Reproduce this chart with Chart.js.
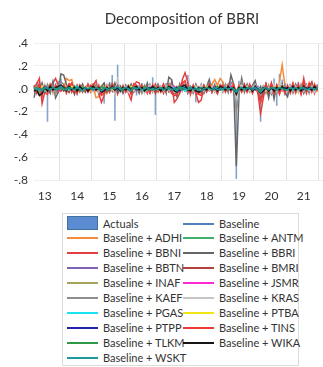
<!DOCTYPE html>
<html>
<head>
<meta charset="utf-8">
<script src="https://cdn.jsdelivr.net/npm/chart.js@4.4.1/dist/chart.umd.min.js"></script>
<style>
  html, body { margin: 0; padding: 0; background: #ffffff; overflow: hidden; }
  #wrap { position: relative; width: 323px; height: 367px; overflow: hidden; }
  #c { position: absolute; left: 0; top: 0; }
  #legendBox { position: absolute; left: 62px; top: 213px; width: 237px; height: 153px; border: 1px solid #dcdcdc; box-sizing: border-box; }
  .item { position: absolute; height: 14px; font-family: Lato, "Open Sans", sans-serif; font-size: 11px; color: #333333; white-space: nowrap; line-height: 14px; }
  .sample { position: absolute; left: 0; width: 31px; }
  .txt { position: absolute; left: 36px; top: 0; }
</style>
</head>
<body>
<div id="wrap">
  <canvas id="c" width="364" height="210"></canvas>
  <div id="legendBox"></div>
  <div id="legend"></div>
</div>
<script>
// Values are typed in hundredths (0.01 units), one line per calendar year (2013 from March).
const yearLabels = ['13','14','15','16','17','18','19','20','21'];
const yTickLabels = ['-.8','-.6','-.4','-.2','.0','.2','.4'];

const actuals = [
  -4,6,-5,-8,3,-29,4,-3,5,7,
  9,4,-3,5,-2,3,-6,2,4,-3,2,-4,
  5,3,-5,-3,-13,4,6,12,-28,21,-4,2,
  -3,4,-5,2,-6,3,5,-2,3,-4,10,-23,
  4,-3,2,5,-4,8,-2,-6,3,6,-3,12,
  -4,3,-12,2,-5,4,-3,6,5,-4,3,-2,
  6,-3,4,5,-6,-79,7,5,-3,4,-2,3,
  5,-4,-29,3,6,-5,4,9,-15,13,8,-6,
  -5,4,3,-4,6,-3,2,5,-4,6,-3,4];
const baseline = [
  1,-1,0,-2,1,-1,0,1,-1,0,
  1,0,-1,1,0,-1,1,0,-1,1,0,-1,
  0,1,-1,0,-2,1,0,1,-1,2,-1,0,
  1,-1,0,1,-1,0,1,0,-1,0,1,-2,
  0,1,-1,0,1,0,-1,1,0,-1,1,0,
  -1,0,1,-1,0,1,0,-1,1,0,-1,0,
  1,0,-1,1,0,-3,1,0,-1,0,1,0,
  0,-1,-2,1,0,-1,1,0,-1,1,0,-1,
  1,0,-1,0,1,-1,0,1,0,-1,0,1];
const adhi = [
  2,-3,4,-2,3,-1,2,-4,3,1,
  2,-1,9,7,8,-2,3,-3,2,-2,4,-3,
  1,-8,-7,-2,3,-4,2,4,-3,3,-2,1,
  -2,3,-1,4,2,-3,2,-2,3,-1,2,-3,
  1,-2,3,-1,2,-3,2,-1,-4,2,3,-2,
  2,-1,3,-2,1,-3,2,-1,4,8,3,9,
  6,-2,3,-1,2,-4,3,-2,1,-3,2,-1,
  2,-3,-5,2,3,-1,4,2,-3,6,21,3,
  -2,1,3,-4,2,-1,3,-2,4,-1,2,-3];
const antm = [
  1,0,-2,1,2,-1,0,1,-1,2,
  0,-1,1,2,-1,0,1,-2,1,0,-1,1,
  2,-1,0,1,-2,1,0,-1,2,0,-1,1,
  0,1,-1,0,2,-1,1,0,-2,1,0,-1,
  1,0,-1,2,0,-1,1,-2,0,1,-1,0,
  2,-1,0,1,-1,0,2,-1,0,1,-2,1,
  0,1,-1,0,1,-2,0,1,-1,2,0,-1,
  1,-1,-3,2,0,1,-1,0,2,-1,1,0,
  -1,1,0,-2,1,0,2,-1,0,1,-1,0];
const bbni = [
  2,4,9,-13,-3,-5,2,5,9,3,
  -2,3,-4,2,5,-3,2,-1,3,-2,4,-1,
  3,7,-4,-12,-6,2,-3,4,3,-5,2,-3,
  2,-4,-10,3,6,5,-3,2,-4,3,-2,4,
  -3,2,-4,3,-2,5,-12,-9,-4,8,14,6,
  -5,3,-4,-12,-10,2,-3,4,-2,3,-4,2,
  3,-2,4,-3,2,-5,3,-2,4,-3,2,-4,
  3,-4,-22,-8,3,-4,2,-5,3,-2,4,-3,
  2,-3,4,-2,3,-4,9,-3,2,6,-4,3];
const bbri = [
  -8,3,-2,5,-3,2,-4,6,-8,-3,
  13,12,4,-3,2,-5,3,-2,4,-3,1,2,
  -2,3,-4,2,5,-3,4,-2,5,-3,2,-4,
  3,-2,4,-3,2,-4,3,-2,5,-3,2,-3,
  4,-2,3,-4,10,8,-3,-7,4,-2,3,-4,
  2,-3,4,-2,3,-4,2,8,-3,2,-4,3,
  -2,3,-3,12,4,-68,-5,9,-3,4,-2,3,
  7,-3,2,-4,3,-8,4,-9,3,-2,4,-3,
  -7,3,-2,4,-3,2,-4,3,-2,4,-3,2];
const bbtn = [
  -1,2,0,-2,1,0,-1,2,-1,0,
  1,-2,0,1,-1,2,0,-1,1,0,-2,1,
  0,1,-2,1,0,-1,2,0,-1,1,0,-1,
  2,-1,0,1,-2,0,1,-1,0,2,-1,0,
  -1,1,0,-2,1,2,-1,0,1,-1,0,2,
  0,-1,2,0,-1,1,0,-2,1,0,1,-1,
  1,0,-1,2,0,-3,1,-1,0,1,-2,0,
  -1,2,-3,0,1,-1,0,2,-1,0,1,-2,
  0,1,-1,2,0,-1,1,0,-2,1,0,-1];
const bmri = [
  2,-3,4,-5,2,-1,3,-2,1,-3,
  3,-2,1,-3,2,-4,1,2,-3,1,-2,3,
  -1,2,-3,-5,1,3,-2,2,-4,3,-1,2,
  -2,1,-4,2,3,-1,2,-3,1,-2,3,-4,
  2,-1,3,-2,1,-3,-4,2,1,3,5,-2,
  1,-3,2,-4,-3,1,-2,3,-1,2,-3,1,
  2,-1,3,-2,1,-6,2,-1,3,-2,1,-3,
  2,-2,-8,-3,2,-1,3,-2,1,-3,2,-1,
  1,-2,3,-1,2,-3,4,-1,2,3,-2,1];
const inaf = [
  0,1,-1,2,-1,0,1,-2,1,0,
  -1,1,2,-1,0,1,-1,0,2,-1,0,1,
  1,-1,0,2,-1,1,0,-1,1,0,-2,1,
  0,1,-1,0,1,-2,1,0,-1,1,0,-1,
  1,-1,2,0,-1,1,0,-2,1,0,1,-1,
  0,1,-1,2,-1,0,1,-1,0,2,-1,0,
  1,-1,0,1,-1,-2,1,0,-1,1,0,1,
  -1,0,-2,1,0,-1,2,0,-1,1,0,-1,
  1,0,-1,1,0,-2,1,0,1,-1,0,1];
const jsmr = [
  1,-1,2,0,-1,1,0,-1,1,-2,
  0,1,-1,0,2,-1,0,1,-1,0,1,-1,
  2,0,-1,1,-2,0,1,-1,0,1,-1,2,
  -1,0,1,-2,0,1,-1,2,0,-1,1,0,
  1,-2,0,1,-1,0,2,-1,0,1,-1,1,
  -1,0,1,-1,2,0,-1,1,-2,0,1,0,
  1,-1,0,2,-1,-2,0,1,-1,0,1,-1,
  0,1,-2,0,1,-1,0,2,-1,1,0,-1,
  1,-1,0,1,-2,0,1,-1,0,2,-1,0];
const kaef = [
  -3,2,-4,3,-2,4,-1,3,-5,2,
  6,4,-2,3,-3,2,-4,3,-2,1,-3,2,
  -2,4,-3,2,-4,3,-2,5,-3,6,-2,3,
  -3,2,-2,4,-3,2,-4,3,-2,4,-3,2,
  3,-2,4,-3,5,3,-2,-4,3,-2,5,-3,
  2,-4,3,-2,4,-3,2,5,-3,4,-2,3,
  -3,4,-2,6,3,-20,-4,6,-2,3,-3,2,
  4,-3,-6,2,-4,3,-5,2,-4,3,-2,4,
  -3,2,-4,3,-2,4,-3,2,-4,3,-2,3];
const kras = [
  2,-3,3,-2,4,-2,1,-3,2,-1,
  3,2,-2,1,-3,2,-1,3,-2,2,-1,1,
  -2,1,-3,2,-1,4,-2,3,-5,8,-2,1,
  2,-3,1,-2,3,-1,2,-4,1,3,-2,1,
  -1,2,-2,3,-1,2,-3,1,2,-2,4,-1,
  1,-2,2,-1,3,-2,1,-1,2,-3,1,2,
  -2,1,3,-2,2,-8,2,3,-1,2,-2,1,
  3,-1,-4,2,-2,1,-3,4,-2,5,3,-1,
  -2,3,-1,2,-3,1,-2,3,-1,2,-3,1];
const pgas = [
  1,0,-1,1,-2,1,0,-1,2,0,
  -1,1,0,-1,1,0,2,-1,0,1,-1,0,
  1,-1,2,0,-1,1,-2,0,1,-1,0,1,
  0,1,-1,1,0,-2,1,0,-1,1,0,-1,
  1,0,-1,2,-1,0,1,-1,0,1,-2,0,
  0,1,-1,0,1,-1,2,0,-1,1,0,-1,
  1,-1,0,1,-1,-2,1,0,-1,1,0,1,
  -1,1,-2,0,1,-1,0,1,-1,0,2,-1,
  0,1,-1,0,1,-1,2,0,-1,1,0,-1];
const ptba = [
  -1,1,0,2,-1,0,1,-1,0,1,
  1,0,-1,1,2,-1,0,1,-1,0,1,-1,
  0,-1,1,0,-1,2,0,-1,1,0,-1,1,
  -1,0,2,-1,0,1,-1,0,1,-2,0,1,
  0,1,-1,0,2,-1,0,1,-1,0,1,-1,
  1,-1,0,1,-1,0,2,-1,0,1,-1,0,
  0,1,-1,0,1,-2,0,1,-1,0,1,-1,
  1,0,-2,1,-1,0,1,-1,0,2,-1,0,
  0,-1,1,0,-1,1,0,-1,2,0,1,-1];
const ptpp = [
  0,-1,1,-1,2,0,-1,1,0,-1,
  1,-1,0,2,-1,0,1,-1,0,1,-1,0,
  -1,1,0,-1,0,1,-1,2,0,-1,1,0,
  1,-1,0,1,-1,0,2,-1,0,1,-1,1,
  0,1,-1,0,1,-1,0,1,-2,0,1,-1,
  1,0,-1,1,0,-1,1,0,-1,2,0,-1,
  0,1,-1,0,1,-3,0,1,-1,0,1,0,
  -1,0,-2,1,0,-1,1,0,-1,1,0,1,
  -1,1,0,-1,1,0,-1,1,0,-1,1,0];
const tins = [
  3,-4,5,-6,2,-3,4,-2,3,-1,
  -2,3,-1,4,-3,2,-4,3,-2,1,-3,2,
  4,-2,3,-6,-4,2,-3,4,-2,3,-1,2,
  -3,2,-5,4,3,-2,3,-1,2,-4,3,-2,
  2,-3,4,-2,3,-4,-6,-5,2,5,7,-2,
  -3,2,-4,-5,-6,3,-2,4,-3,2,-4,3,
  2,-3,3,-2,4,-4,2,-3,3,-2,4,-3,
  2,-3,-12,-5,4,-3,5,-4,3,-5,2,-4,
  3,-4,5,-3,4,-5,6,-4,5,-3,4,-2];
const tlkm = [
  0,1,-1,0,1,-1,2,0,-1,1,
  0,-1,1,0,-1,2,0,-1,1,0,-1,0,
  1,0,-1,2,0,-1,1,0,-1,0,1,-1,
  0,-1,1,0,1,-1,0,2,-1,0,-1,1,
  -1,0,1,-1,0,1,-1,0,2,-1,0,1,
  0,1,0,-1,1,0,-1,1,0,-1,2,0,
  -1,0,1,0,-1,-2,1,0,-1,1,0,-1,
  1,0,-2,0,1,-1,0,1,0,-1,1,0,
  -1,0,1,-1,0,1,0,-1,1,0,-1,1];
const wika = [
  -2,-1,-6,-4,1,-2,2,-1,1,2,
  3,1,-2,2,-1,1,-2,2,-1,1,-2,1,
  2,-1,1,-3,-2,1,-1,2,-1,1,-2,1,
  -1,2,-2,1,2,-1,1,-2,1,-1,2,-1,
  1,-2,1,-1,2,1,-2,-3,1,2,3,-1,
  -2,1,-2,-3,-2,1,-1,2,-1,1,-2,2,
  1,-1,2,-1,1,-5,1,-1,2,-1,1,-2,
  2,-1,-4,-2,1,-2,1,-2,1,-1,2,-1,
  1,-2,2,-1,1,-2,2,-1,1,-1,2,-1];
const wskt = [
  1,-1,0,-2,1,0,-1,1,0,-1,
  2,0,-1,1,0,-1,1,0,-2,1,0,1,
  -1,1,0,-2,1,0,-1,1,0,2,-1,0,
  1,0,-2,1,0,1,-1,0,1,-1,0,-1,
  0,1,-1,0,1,-1,0,-2,1,1,0,-1,
  1,-1,0,-1,-2,0,1,0,-1,1,-1,0,
  0,1,-1,1,0,-3,0,1,-1,0,1,-1,
  1,-1,-3,0,1,-1,1,0,-1,1,0,-1,
  -1,1,0,1,-1,0,1,-1,0,1,-1,0];

// Monthly categories from Mar 2013; the axis runs on past the data (beyond the cropped right edge)
const categories = [];
for (let y = 2013; y <= 2023; y++) {
  for (let m = (y === 2013 ? 3 : 1); m <= 12; m++) {
    if (categories.length < 120) categories.push(y + '-' + String(m).padStart(2, '0'));
  }
}

const stockNames = ['ADHI','ANTM','BBNI','BBRI','BBTN','BMRI','INAF','JSMR','KAEF','KRAS','PGAS','PTBA','PTPP','TINS','TLKM','WIKA','WSKT'];
const stockValues = [adhi, antm, bbni, bbri, bbtn, bmri, inaf, jsmr, kaef, kras, pgas, ptba, ptpp, tins, tlkm, wika, wskt];
const stockColors = ['#f58c3c','#3fae68','#e2403f','#666666','#7f62b0','#b5403d','#a3a35c','#ff2ad4','#8e8e8e','#c6c6c6','#19e4f2','#f2e417','#1f23a8','#f03a36','#2f9a45','#161616','#1f9a9c'];

const toUnits = a => a.map(v => v / 100);

const datasets = [{
  type: 'bar', label: 'Actuals', data: toUnits(actuals),
  backgroundColor: '#86a3cf', borderWidth: 0,
  barPercentage: 0.6, categoryPercentage: 1, order: 100
}, {
  type: 'line', label: 'Baseline', data: toUnits(baseline),
  borderColor: '#4f81bd', borderWidth: 1.4, pointRadius: 0, tension: 0, order: 60
}];
stockNames.forEach((n, k) => {
  datasets.push({
    type: 'line', label: 'Baseline + ' + n, data: toUnits(stockValues[k]),
    borderColor: stockColors[k], borderWidth: 1.5, pointRadius: 0, tension: 0, order: 59 - k
  });
});

new Chart(document.getElementById('c'), {
  type: 'line',
  data: { labels: categories, datasets },
  options: {
    responsive: false, animation: false, devicePixelRatio: 1,
    layout: { autoPadding: false, padding: { left: 0, right: 0, top: 0, bottom: 0 } },
    plugins: {
      legend: { display: false }, tooltip: { enabled: false },
      title: { display: true, text: 'Decomposition of BBRI', color: '#333333',
        font: { family: 'Lato', size: 15, weight: 'normal' }, padding: { top: 10, bottom: 15 } }
    },
    scales: {
      x: {
        type: 'category', offset: false,
        border: { display: false },
        grid: { drawTicks: false, lineWidth: 1,
          color: ctx => (categories[ctx.index] && categories[ctx.index].endsWith('-01')) ? '#e2e2e2' : 'rgba(0,0,0,0)' },
        ticks: { autoSkip: false, maxRotation: 0, minRotation: 0, padding: 9, color: '#333333',
          font: { family: 'Lato', size: 12 },
          callback: (v, i) => categories[i].endsWith('-07') ? (yearLabels[parseInt(categories[i].slice(0, 4)) - 2013] || '') : '' },
        afterFit: s => { s.height = 30; }
      },
      y: {
        min: -0.8, max: 0.4,
        border: { display: false },
        grid: { drawTicks: false, color: '#efefef', lineWidth: 1 },
        ticks: { stepSize: 0.2, padding: 6, color: '#333333', font: { family: 'Lato', size: 12 },
          callback: (v, i) => yTickLabels[i] },
        afterFit: s => { s.width = 34; }
      }
    }
  }
});

// HTML legend (two columns, row-major like the original)
const legendEl = document.getElementById('legend');
const entries = [{ label: 'Actuals', color: '#5b8bd0', box: true }, { label: 'Baseline', color: '#4f81bd' }]
  .concat(stockNames.map((n, k) => ({ label: 'Baseline + ' + n, color: stockColors[k] })));
entries.forEach((e, k) => {
  const row = Math.floor(k / 2), col = k % 2;
  const cy = 223.5 + row * 14.9;
  const it = document.createElement('div');
  it.className = 'item';
  it.style.left = (col ? 183 : 67) + 'px';
  it.style.top = (cy - 7) + 'px';
  const s = document.createElement('div');
  s.className = 'sample';
  if (e.box) {
    s.style.top = '-1px'; s.style.height = '14px'; s.style.background = e.color;
    s.style.border = '1px solid #41719c'; s.style.boxSizing = 'border-box';
  } else {
    s.style.top = '6px'; s.style.height = '2px'; s.style.background = e.color;
  }
  const t = document.createElement('div');
  t.className = 'txt';
  t.textContent = e.label;
  it.appendChild(s); it.appendChild(t);
  legendEl.appendChild(it);
});
</script>
</body>
</html>
